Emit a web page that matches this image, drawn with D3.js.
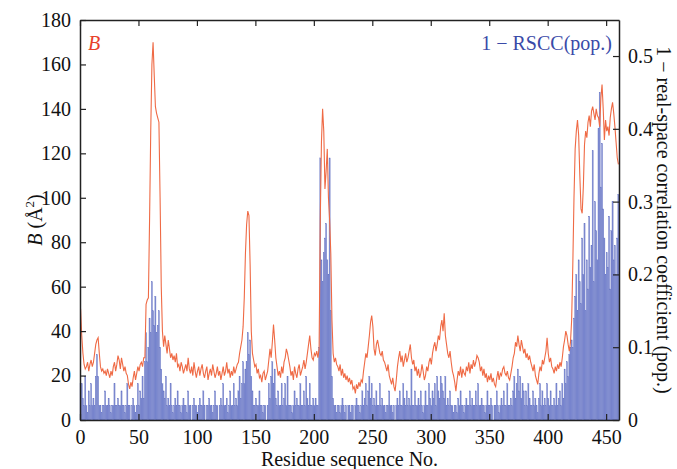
<!DOCTYPE html>
<html>
<head>
<meta charset="utf-8">
<script src="https://cdn.jsdelivr.net/npm/d3@7"></script>
<style>
  body { margin: 0; background: #fff; }
  svg text { font-family: "Times New Roman", "Liberation Serif", "DejaVu Serif", serif; }
</style>
</head>
<body>
<svg id="chart" width="677" height="469"></svg>
<script>
// B-factor per residue (0..460)
const bFactor = [
  50, 38, 30, 25, 23, 24, 26, 22, 25, 27,
  24, 26, 30, 34, 36, 37, 30, 24, 22, 23,
  21, 22, 20, 23, 21, 19, 22, 20, 24, 26,
  22, 25, 29, 27, 23, 28, 25, 22, 24, 21,
  20, 16, 14, 17, 15, 19, 22, 18, 21, 24,
  22, 25, 26, 24, 28, 28, 52, 54, 55, 90,
  130, 160, 170, 155, 141, 138, 136, 134, 100, 60,
  40, 33, 38, 34, 30, 36, 32, 28, 30, 27,
  29, 26, 30, 24, 25, 22, 26, 24, 21, 23,
  25, 22, 28, 23, 21, 24, 20, 26, 22, 19,
  22, 24, 20, 23, 25, 21, 19, 22, 24, 18,
  21, 23, 20, 25, 22, 19, 21, 24, 20, 22,
  18, 21, 24, 20, 22, 26, 21, 23, 19, 22,
  20, 24, 21, 23, 25, 26, 30, 33, 36, 42,
  55, 75, 88, 94, 92, 70, 40, 30, 27, 24,
  25, 21, 23, 19, 20, 17, 21, 22, 18, 20,
  22, 27, 32, 28, 35, 43, 36, 28, 24, 20,
  22, 19, 24, 21, 26, 28, 32, 30, 27, 24,
  20, 22, 18, 24, 21, 19, 23, 25, 20, 22,
  24, 27, 23, 26, 30, 34, 38, 32, 28, 27,
  30, 29, 31, 28, 32, 90, 125, 140, 130, 104,
  112, 122, 100, 90, 75, 45, 30, 26, 28, 25,
  24, 22, 25, 20, 23, 19, 21, 18, 20, 17,
  19, 16, 18, 14, 15, 12, 16, 14, 17, 15,
  18, 17, 22, 26, 30, 28, 33, 38, 44, 47,
  42, 32, 29, 34, 36, 33, 30, 29, 31, 27,
  26, 24, 22, 25, 20, 18, 16, 19, 15, 13,
  18, 24, 28, 31, 26, 29, 24, 27, 30, 26,
  28, 31, 34, 28, 25, 27, 22, 24, 20, 23,
  19, 21, 25, 22, 18, 20, 24, 22, 26, 28,
  25, 30, 33, 35, 31, 34, 38, 36, 42, 45,
  40, 48, 38, 34, 30, 28, 31, 26, 22, 20,
  17, 13, 18, 22, 20, 24, 19, 23, 21, 20,
  24, 22, 26, 21, 25, 23, 27, 24, 26, 29,
  28, 26, 22, 24, 20, 23, 19, 21, 17, 20,
  18, 21, 17, 19, 16, 15, 19, 22, 18, 21,
  20, 23, 24, 21, 20, 22, 19, 18, 21, 24,
  28, 30, 35, 33, 38, 34, 31, 36, 33, 30,
  32, 28, 30, 27, 29, 26, 24, 22, 25, 20,
  18, 16, 21, 24, 22, 27, 25, 28, 31, 37,
  30, 26, 28, 24, 23, 21, 24, 22, 25, 23,
  26, 24, 28, 33, 36, 40, 38, 34, 31, 35,
  45, 70, 100, 122, 130, 135, 128, 110, 95, 93,
  105, 124, 130, 127, 134, 137, 132, 139, 141, 138,
  135, 140, 137, 136, 132, 145, 151, 140, 126, 135,
  130, 132, 128, 136, 140, 143, 138, 132, 125, 118,
  115
];

// 1 - RSCC (pop.) per residue (0..460)
const rscc = [
  .05, .05, .03, .02, .06, .02, .01, .04, .02, .05,
  .02, .03, .02, .06, .09, .06, .02, .02, .01, .02,
  .02, .04, .02, .02, .03, .02, .01, .02, .02, .05,
  .02, .02, .03, .02, .02, .04, .02, .02, .01, .02,
  .05, .02, .02, .00, .02, .03, .02, .01, .02, .05,
  .02, .04, .03, .06, .03, .08, .12, .08, .10, .14,
  .12, .19, .15, .13, .17, .12, .13, .15, .10, .07,
  .05, .04, .03, .06, .02, .03, .02, .05, .02, .01,
  .02, .03, .02, .04, .02, .02, .01, .02, .03, .02,
  .02, .01, .04, .02, .02, .00, .02, .03, .02, .02,
  .01, .02, .03, .02, .02, .04, .02, .00, .02, .02,
  .03, .02, .02, .01, .02, .04, .02, .02, .00, .02,
  .03, .02, .05, .02, .02, .03, .01, .02, .04, .02,
  .02, .05, .02, .03, .02, .04, .06, .03, .05, .08,
  .05, .07, .08, .12, .09, .11, .06, .04, .02, .02,
  .03, .02, .02, .04, .02, .02, .01, .02, .02, .00,
  .02, .05, .03, .06, .08, .05, .07, .03, .02, .04,
  .02, .02, .05, .02, .03, .05, .02, .06, .02, .02,
  .02, .01, .02, .04, .02, .03, .02, .02, .05, .02,
  .02, .04, .02, .06, .03, .02, .05, .02, .02, .03,
  .02, .03, .02, .02, .10, .36, .22, .19, .23, .25,
  .27, .22, .20, .36, .15, .06, .03, .02, .02, .01,
  .02, .02, .01, .02, .03, .02, .01, .02, .00, .02,
  .02, .01, .02, .02, .00, .02, .03, .02, .02, .01,
  .02, .04, .02, .03, .05, .02, .04, .06, .03, .05,
  .02, .03, .02, .04, .02, .02, .05, .02, .03, .02,
  .02, .01, .02, .02, .04, .02, .02, .01, .02, .00,
  .02, .03, .02, .04, .02, .02, .05, .03, .02, .04,
  .02, .03, .02, .07, .02, .02, .04, .02, .02, .03,
  .02, .04, .02, .01, .02, .04, .02, .02, .05, .03,
  .02, .04, .03, .05, .02, .06, .04, .03, .06, .05,
  .04, .03, .06, .02, .03, .02, .04, .02, .02, .01,
  .02, .02, .01, .03, .02, .04, .02, .02, .01, .02,
  .03, .02, .02, .04, .02, .03, .02, .02, .04, .02,
  .05, .02, .02, .03, .02, .02, .01, .02, .04, .02,
  .02, .03, .02, .00, .02, .02, .04, .02, .01, .02,
  .03, .02, .04, .02, .02, .05, .02, .02, .03, .02,
  .04, .06, .03, .05, .07, .04, .06, .03, .05, .04,
  .02, .04, .02, .05, .03, .02, .02, .04, .02, .03,
  .02, .01, .03, .05, .02, .04, .02, .03, .02, .05,
  .03, .02, .04, .02, .02, .03, .02, .05, .02, .03,
  .04, .02, .05, .03, .07, .05, .08, .06, .09, .10,
  .11, .10, .14, .17, .20, .15, .22, .19, .16, .25,
  .20, .27, .15, .22, .18, .28, .21, .24, .37, .19,
  .30, .26, .22, .40, .45, .32, .38, .29, .25, .20,
  .23, .21, .28, .18, .26, .30, .22, .24, .20, .25,
  .31
];

const xTicks = [0, 50, 100, 150, 200, 250, 300, 350, 400, 450];
const bTicks = [0, 20, 40, 60, 80, 100, 120, 140, 160, 180];
const rTicks = [0, 0.1, 0.2, 0.3, 0.4, 0.5];

const margin = { left: 80, right: 58, top: 20, bottom: 49 };
const W = 677, H = 469;
const svg = d3.select("#chart");
const serif = "'Times New Roman', 'Liberation Serif', serif";

const x = d3.scaleLinear().domain([0, 461]).range([margin.left, W - margin.right]);
const yB = d3.scaleLinear().domain([0, 180]).range([H - margin.bottom, margin.top]);
const yR = d3.scaleLinear().domain([0, 0.5495]).range([H - margin.bottom, margin.top]);

// bars
svg.append("g")
  .selectAll("rect")
  .data(rscc)
  .join("rect")
  .attr("x", (d, i) => x(i))
  .attr("width", x(1) - x(0))
  .attr("y", d => yR(d))
  .attr("height", d => yR(0) - yR(d))
  .attr("fill", "#7d8ad0")
  .attr("stroke", "#6674c4")
  .attr("stroke-width", 0.3);

// B line
const line = d3.line().x((d, i) => x(i + 0.5)).y(d => yB(d));
svg.append("path")
  .datum(bFactor)
  .attr("d", line)
  .attr("fill", "none")
  .attr("stroke", "#ef6a45")
  .attr("stroke-width", 1.1);

// axes
const tickLen = 6;
const axisB = svg.append("g")
  .attr("transform", `translate(0,${yB(0)})`)
  .call(d3.axisBottom(x).tickValues(xTicks).tickSizeInner(-tickLen).tickSizeOuter(0).tickPadding(10));
const axisT = svg.append("g")
  .attr("transform", `translate(0,${yB(180)})`)
  .call(d3.axisTop(x).tickValues(xTicks).tickSizeInner(-tickLen).tickSizeOuter(0).tickFormat(""));
const axisL = svg.append("g")
  .attr("transform", `translate(${x(0)},0)`)
  .call(d3.axisLeft(yB).tickValues(bTicks).tickSizeInner(-tickLen).tickSizeOuter(0).tickPadding(9));
const axisR = svg.append("g")
  .attr("transform", `translate(${x(461)},0)`)
  .call(d3.axisRight(yR).tickValues(rTicks).tickSizeInner(-tickLen).tickSizeOuter(0).tickPadding(9)
    .tickFormat(d => d === 0 ? "0" : d3.format(".1f")(d)));

[axisB, axisT, axisL, axisR].forEach(g => {
  g.attr("font-family", serif);
  g.selectAll("path").attr("stroke", "#222").attr("stroke-width", 1.5);
  g.selectAll("line").attr("stroke", "#222").attr("stroke-width", 1.2);
  g.selectAll("text").attr("font-size", 20).attr("fill", "#111")
    .attr("font-family", serif);
});

// labels
svg.append("text")
  .attr("x", 88).attr("y", 50)
  .attr("font-size", 20).attr("font-style", "italic").attr("fill", "#e8402a")
  .text("B");

svg.append("text")
  .attr("x", 612).attr("y", 50).attr("text-anchor", "end")
  .attr("font-size", 20).attr("fill", "#3a4aa8")
  .text("1 − RSCC(pop.)");

svg.append("text")
  .attr("x", (x(0) + x(461)) / 2).attr("y", 466).attr("text-anchor", "middle")
  .attr("font-size", 20).attr("fill", "#111")
  .text("Residue sequence No.");

const yl = svg.append("text")
  .attr("transform", `translate(42,${(yB(0) + yB(180)) / 2}) rotate(-90)`)
  .attr("text-anchor", "middle")
  .attr("font-size", 20).attr("fill", "#111");
yl.append("tspan").attr("font-style", "italic").text("B");
yl.append("tspan").text(" (Å");
yl.append("tspan").attr("font-size", 13).attr("dy", -8).text("2");
yl.append("tspan").attr("dy", 8).text(")");

svg.append("text")
  .attr("transform", `translate(657,${(yB(0) + yB(180)) / 2}) rotate(90)`)
  .attr("text-anchor", "middle")
  .attr("font-size", 20).attr("fill", "#111")
  .text("1 − real-space correlation coefficient (pop.)");
</script>
</body>
</html>
